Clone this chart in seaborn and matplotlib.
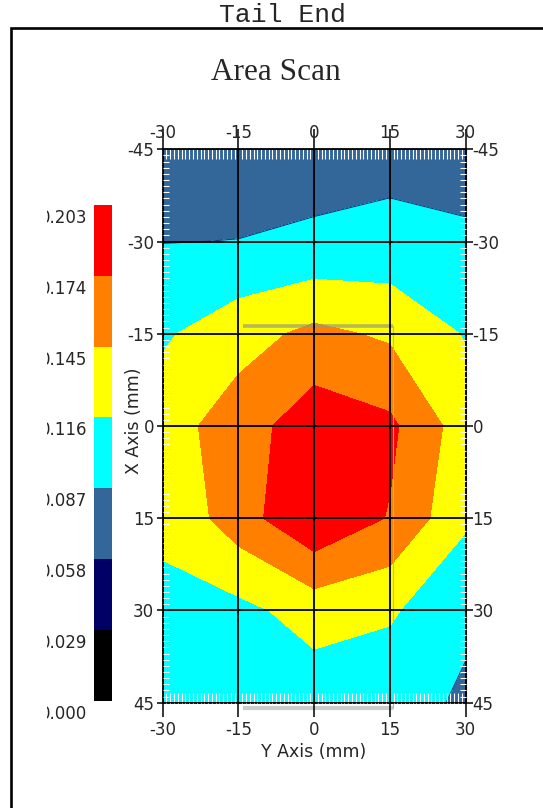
import numpy as np
import pandas as pd
import seaborn as sns
import matplotlib
matplotlib.use("Agg")
import matplotlib.pyplot as plt
from matplotlib.colors import ListedColormap, BoundaryNorm
from matplotlib.ticker import MultipleLocator, NullLocator, FixedLocator
from matplotlib.transforms import ScaledTranslation, Bbox, TransformedBbox
from matplotlib.patches import Rectangle

# scan positions (mm)
y_axis_mm = [-30, -15, 0, 15, 30]                 # horizontal axis
x_axis_mm = [-45, -30, -15, 0, 15, 30, 45]        # vertical axis (top = -45)

# amplitude per X row
amp_x_m45 = [0.072, 0.074, 0.076, 0.078, 0.075]
amp_x_m30 = [0.0865, 0.0874, 0.0911, 0.0951, 0.0914]
amp_x_m15 = [0.112, 0.1335, 0.152, 0.1405, 0.114]
amp_x_0 = [0.132, 0.1596, 0.1913, 0.180, 0.130]
amp_x_15 = [0.119, 0.161, 0.200, 0.172, 0.1208]
amp_x_30 = [0.1124, 0.108, 0.128, 0.120, 0.0908]
amp_x_45 = [0.100, 0.100, 0.0994, 0.096, 0.0839]

levels = [0.000, 0.029, 0.058, 0.087, 0.116, 0.145, 0.174, 0.203]
band_colors = ["#000000", "#000066", "#336699", "#00ffff",
               "#ffff00", "#ff8000", "#ff0000"]

# faint selection box left on the scan
sel_y = [-14.1, 15.7]
sel_x = [-16.3, 45.8]

sns.set_style("white")
plt.rcParams["font.family"] = ["DejaVu Sans"]
plt.rcParams["axes.unicode_minus"] = False

df = pd.DataFrame([amp_x_m45, amp_x_m30, amp_x_m15, amp_x_0,
                   amp_x_15, amp_x_30, amp_x_45],
                  index=x_axis_mm, columns=y_axis_mm)

cmap = ListedColormap(band_colors)
norm = BoundaryNorm(levels, cmap.N)

W, H = 543, 808
fig = plt.figure(figsize=(W / 100, H / 100), dpi=100)
fig.patch.set_facecolor("white")

ax = fig.add_axes([162.7 / W, 1 - 702.7 / H, 302.8 / W, 553.4 / H])
cax = fig.add_axes([94.3 / W, 1 - 700.6 / H, 18 / W, 495.6 / H])

YY, XX = np.meshgrid(df.columns.values, df.index.values)
cf = ax.contourf(YY, XX, df.values, levels=levels, cmap=cmap, norm=norm)
ax.contour(YY, XX, df.values, levels=[0.087], colors="#1e2a6e", linewidths=0.7)

ax.set_xlim(-30, 30)
ax.set_ylim(45, -45)

# selection box remnants
ax.plot(sel_y, [sel_x[0], sel_x[0]], color="#9a9a7a", lw=2.6, alpha=0.7,
        zorder=2, solid_capstyle="butt")
ax.plot(sel_y, [sel_x[1], sel_x[1]], color="#c8cece", lw=3.0, zorder=2,
        clip_on=False, solid_capstyle="butt")
ax.plot([sel_y[1], sel_y[1]], sel_x, color="#b4b4b4", lw=0.8, zorder=2,
        clip_on=False)

ax.xaxis.set_major_locator(FixedLocator(y_axis_mm))
ax.yaxis.set_major_locator(FixedLocator(x_axis_mm))
ax.xaxis.set_minor_locator(MultipleLocator(0.75))
ax.yaxis.set_minor_locator(MultipleLocator(1))
ax.set_axisbelow(False)
ax.grid(True, which="major", color="black", lw=1.3)
ax.grid(False, which="minor")

ax.tick_params(axis="x", which="major", direction="out", length=10, width=1.1,
               color="black", labelsize=12, pad=3.1, bottom=True, top=False)
ax.tick_params(axis="y", which="major", direction="out", length=4.3, width=1.1,
               color="black", labelsize=12, pad=2, left=True, right=False)
ax.tick_params(axis="x", which="minor", direction="in", color="white",
               length=7, width=0.8, bottom=True, top=True)
ax.tick_params(axis="y", which="minor", direction="in", color="white",
               length=4.3, width=0.8, left=True, right=True)
for sp in ax.spines.values():
    sp.set_color("black")
    sp.set_linewidth(1.3)

secx = ax.secondary_xaxis("top")
secx.xaxis.set_major_locator(FixedLocator(y_axis_mm))
secx.xaxis.set_minor_locator(NullLocator())
secx.tick_params(direction="out", length=14.4, width=1.1, color="black",
                 labelsize=12, pad=-9.4)
secy = ax.secondary_yaxis("right")
secy.yaxis.set_major_locator(FixedLocator(x_axis_mm))
secy.yaxis.set_minor_locator(NullLocator())
secy.tick_params(direction="out", length=5, width=1.1, color="black",
                 labelsize=12, pad=0)

ax.set_xlabel("Y Axis (mm)", fontsize=12.5)
ax.xaxis.label.set_va("center")
ax.xaxis.set_label_coords(0.5, -0.089)
ax.set_ylabel("X Axis (mm)", fontsize=12.5)
ax.yaxis.label.set_va("center")
ax.yaxis.set_label_coords(-0.095, 0.51)

# colour scale
cb = fig.colorbar(cf, cax=cax)
cb.outline.set_visible(False)
cb.set_ticks([])
cax.yaxis.set_minor_locator(NullLocator())
cax.tick_params(which="both", left=False, right=False, length=0)
clipbox = TransformedBbox(Bbox.from_extents(47 / W, 0, 1, 1), fig.transFigure)
shift = ScaledTranslation(0, -0.13, fig.dpi_scale_trans)
for lv in levels:
    t = cax.text(-0.4, lv, f"{lv:.3f}", ha="right", va="center", fontsize=12,
                 transform=cax.get_yaxis_transform() + shift)
    t.set_clip_box(clipbox)
    t.set_clip_on(True)

# titles and frame
fig.text(282.5 / W, 1 - 21.5 / H, "Tail End", family="Liberation Mono",
         fontsize=19, ha="center", va="baseline")
fig.text(276 / W, 1 - 80 / H, "Area Scan", family="Liberation Serif",
         fontsize=22.5, ha="center", va="baseline")
fig.add_artist(Rectangle((11 / W, -0.1), 2, 1.1 - 28.5 / H, fill=False,
                         edgecolor="black", lw=1.9, transform=fig.transFigure,
                         clip_on=False))

fig.savefig("out.png", dpi=100)
